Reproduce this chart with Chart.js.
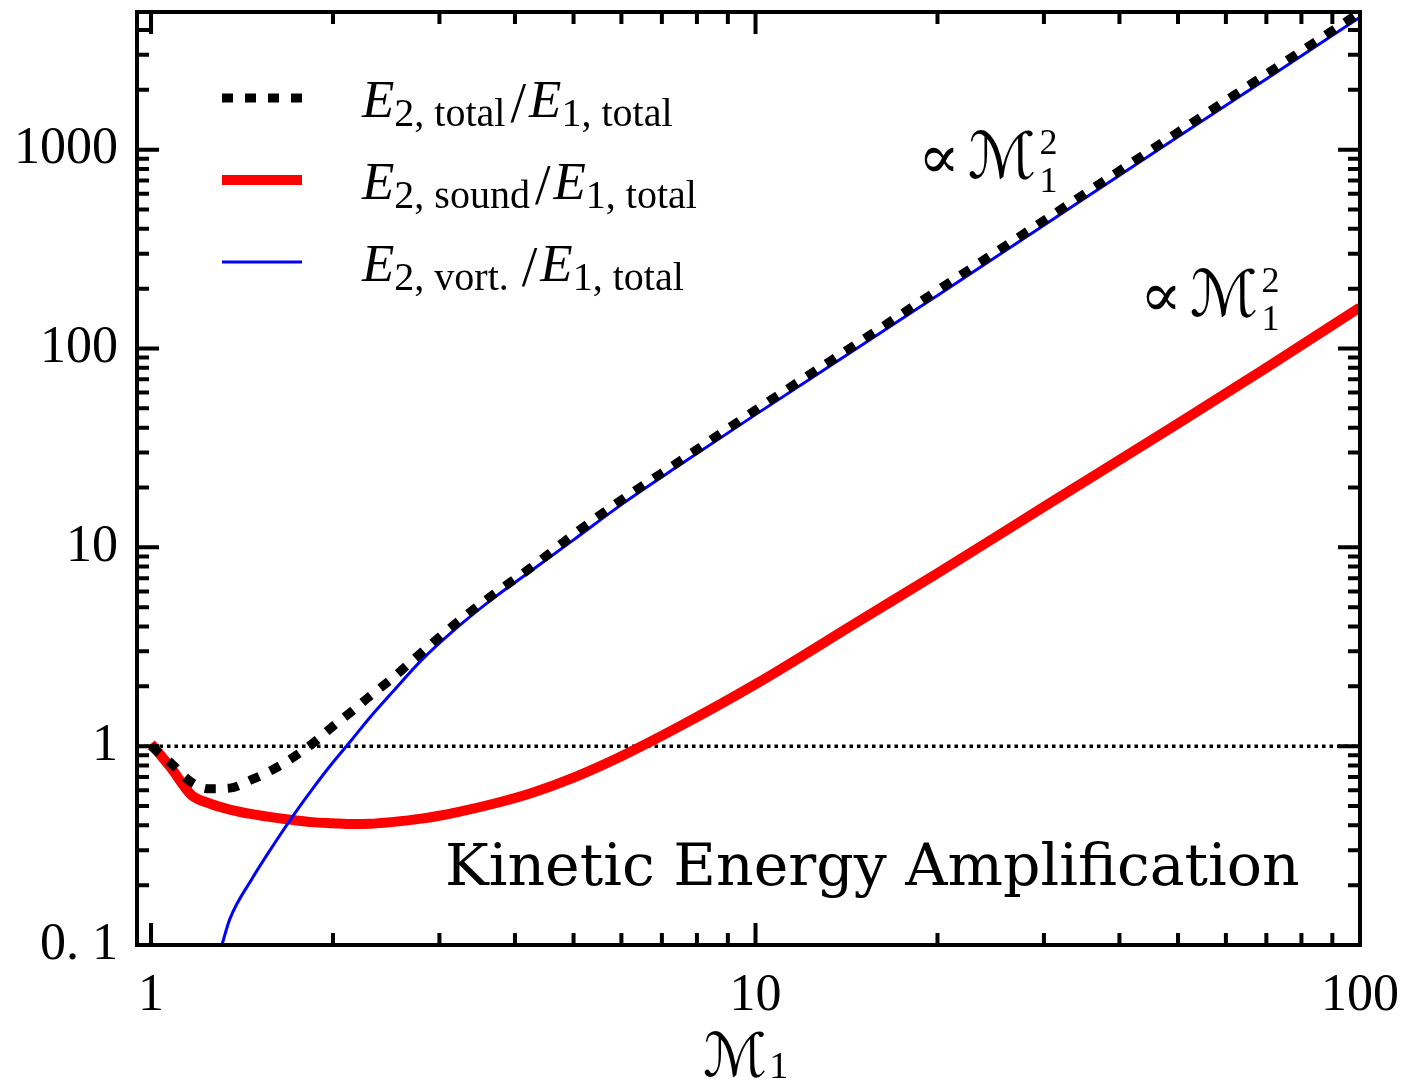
<!DOCTYPE html>
<html>
<head>
<meta charset="utf-8">
<script src="https://cdn.jsdelivr.net/npm/chart.js@4/dist/chart.umd.min.js"></script>
<style>
  html, body { margin: 0; padding: 0; background: #fff; }
  canvas { display: block; }
</style>
</head>
<body>
<canvas id="chart" width="1405" height="1082"></canvas>
<script>
// upstream Mach number M1 and energy ratios
const machNumbers = [1, 1.08, 1.165, 1.25, 1.35, 1.47, 1.6, 1.72, 1.85, 2, 2.15, 2.3, 2.5, 2.8, 3.2, 3.7, 4.25, 5, 6, 7.5, 10, 15, 20, 30, 50, 70, 100];
const totalRatio = [1.0, 0.82, 0.66, 0.61, 0.615, 0.68, 0.77, 0.88, 1.03, 1.26, 1.5, 1.78, 2.18, 2.95, 4.17, 5.85, 7.9, 11.6, 17.3, 27.2, 49, 110, 196, 440, 1225, 2400, 4900];
const soundRatio = [1.03, 0.775, 0.57, 0.515, 0.48, 0.455, 0.437, 0.425, 0.415, 0.41, 0.406, 0.407, 0.415, 0.432, 0.465, 0.515, 0.58, 0.695, 0.89, 1.26, 2.05, 4.35, 7.4, 16.0, 42, 80, 161];
const vortMach = [1.31, 1.35, 1.47, 1.6, 1.72, 1.85, 2, 2.15, 2.3, 2.5, 2.8, 3.2, 3.7, 4.25, 5, 6, 7.5, 10, 15, 20, 30, 50, 70, 100];
const vortRatio = [0.1, 0.135, 0.216, 0.324, 0.449, 0.61, 0.83, 1.08, 1.39, 1.85, 2.7, 3.92, 5.6, 7.6, 10.9, 16.4, 26, 46.5, 104, 185, 417, 1160, 2270, 4640];

const xRange = [0.948, 100];
const yRange = [0.1, 4925];
const xTicks = [1, 10, 100];
const xTickLabels = ['1', '10', '100'];
const yTicks = [0.1, 1, 10, 100, 1000];
const yTickLabels = ['0. 1', '1', '10', '100', '1000'];

const serif = "'Liberation Serif', 'DejaVu Serif', serif";
const script = "'DejaVu Serif', 'DejaVu Sans', serif";

function points(xs, ys) {
    return xs.map((x, i) => ({ x: x, y: ys[i] }));
}

function minorTicks(lo, hi) {
    const out = [];
    for (let d = Math.pow(10, Math.floor(Math.log10(lo))); d < hi; d *= 10) {
        for (let k = 1; k < 10; k++) {
            const v = +(k * d).toPrecision(3);
            if (v >= lo && v <= hi) out.push(v);
        }
    }
    return out;
}

// draw a row of text pieces, each with its own font and baseline shift
function drawRuns(ctx, x, base, runs) {
    runs.forEach(r => {
        ctx.font = r.font;
        x += r.pre || 0;
        ctx.fillText(r.text, x, base + (r.dy || 0));
        x += ctx.measureText(r.text).width + (r.gap || 0);
    });
    return x;
}

const frameAndText = {
    id: 'frameAndText',
    afterDraw(chart) {
        const { ctx, chartArea: a, scales: { x, y } } = chart;
        ctx.save();
        ctx.strokeStyle = '#000';
        ctx.lineCap = 'butt';
        ctx.lineWidth = 4;

        // inward ticks on all four sides
        minorTicks(xRange[0], xRange[1]).forEach(v => {
            const px = x.getPixelForValue(v);
            const len = xTicks.includes(v) ? 22 : 12;
            ctx.beginPath();
            ctx.moveTo(px, a.bottom); ctx.lineTo(px, a.bottom - len);
            ctx.moveTo(px, a.top); ctx.lineTo(px, a.top + len);
            ctx.stroke();
        });
        minorTicks(yRange[0], yRange[1]).forEach(v => {
            const py = y.getPixelForValue(v);
            const len = yTicks.includes(v) ? 22 : 12;
            ctx.beginPath();
            ctx.moveTo(a.left, py); ctx.lineTo(a.left + len, py);
            ctx.moveTo(a.right, py); ctx.lineTo(a.right - len, py);
            ctx.stroke();
        });
        ctx.strokeRect(a.left, a.top, a.right - a.left, a.bottom - a.top);

        // legend
        const rows = [
            { ds: 0, y: 98, num: '2, total', pad: 5 },
            { ds: 1, y: 180, num: '2, sound', pad: 5 },
            { ds: 2, y: 262, num: '2, vort.', pad: 13 }
        ];
        rows.forEach(r => {
            const d = chart.data.datasets[r.ds];
            ctx.save();
            ctx.strokeStyle = d.borderColor;
            ctx.lineWidth = d.borderWidth;
            ctx.setLineDash(d.borderDash || []);
            ctx.beginPath();
            ctx.moveTo(222, r.y); ctx.lineTo(302, r.y);
            ctx.stroke();
            ctx.restore();

            ctx.fillStyle = '#000';
            ctx.textAlign = 'left';
            ctx.textBaseline = 'alphabetic';
            drawRuns(ctx, 362, r.y + 19, [
                { text: 'E', font: 'italic 53px ' + serif, gap: 0 },
                { text: r.num, font: '40px ' + serif, dy: 9, gap: r.pad },
                { text: '/', font: '56px ' + serif, dy: 5, gap: 3 },
                { text: 'E', font: 'italic 53px ' + serif, gap: 0 },
                { text: '1, total', font: '40px ' + serif, dy: 9 }
            ]);
        });

        // scaling annotations
        [[918, 178], [1140, 316]].forEach(p => {
            const cx = drawRuns(ctx, p[0], p[1], [
                { text: '\u221D', font: '62px ' + script, gap: 8 },
                { text: '\u2133', font: '64px ' + script, gap: 3 }
            ]);
            ctx.font = '36px ' + serif;
            ctx.fillText('2', cx, p[1] - 24);
            ctx.fillText('1', cx, p[1] + 14);
        });

        ctx.font = '58.5px ' + script;
        ctx.fillText('Kinetic Energy Amplification', 445, 885);

        // x axis title
        drawRuns(ctx, 703, 1076, [
            { text: '\u2133', font: '60px ' + script, gap: 2 },
            { text: '1', font: '38px ' + serif, dy: 2 }
        ]);
        ctx.restore();
    }
};

const chart = new Chart(document.getElementById('chart'), {
    type: 'line',
    data: {
        datasets: [
            {
                label: 'E2,total/E1,total',
                data: points(machNumbers, totalRatio),
                borderColor: '#000',
                borderWidth: 9,
                borderDash: [11, 12],
                pointRadius: 0,
                cubicInterpolationMode: 'monotone',
                order: 0
            },
            {
                label: 'E2,sound/E1,total',
                data: points(machNumbers, soundRatio),
                borderColor: '#ff0000',
                borderWidth: 10,
                pointRadius: 0,
                cubicInterpolationMode: 'monotone',
                order: 2
            },
            {
                label: 'E2,vort./E1,total',
                data: points(vortMach, vortRatio),
                borderColor: '#0000ff',
                borderWidth: 3,
                pointRadius: 0,
                cubicInterpolationMode: 'monotone',
                order: 1
            },
            {
                label: 'unity',
                data: points(xRange, [1, 1]),
                borderColor: '#000',
                borderWidth: 3.5,
                borderDash: [3.5, 4],
                pointRadius: 0,
                order: 3
            }
        ]
    },
    options: {
        responsive: false,
        animation: false,
        layout: { padding: { left: 0, top: 12, right: 45, bottom: 0 } },
        plugins: { legend: { display: false }, tooltip: { enabled: false } },
        scales: {
            x: {
                type: 'logarithmic',
                min: xRange[0],
                max: xRange[1],
                grid: { display: false, drawTicks: false },
                border: { display: false },
                afterBuildTicks: s => { s.ticks = xTicks.map(v => ({ value: v })); },
                afterFit: s => { s.height = 137; s.paddingLeft = 0; s.paddingRight = 0; },
                ticks: {
                    autoSkip: false,
                    maxRotation: 0,
                    padding: 20,
                    color: '#000',
                    font: { family: serif, size: 52 },
                    callback: v => xTickLabels[xTicks.indexOf(v)]
                }
            },
            y: {
                type: 'logarithmic',
                min: yRange[0],
                max: yRange[1],
                grid: { display: false, drawTicks: false },
                border: { display: false },
                afterBuildTicks: s => { s.ticks = yTicks.map(v => ({ value: v })); },
                afterFit: s => { s.width = 137; s.paddingTop = 0; s.paddingBottom = 0; },
                ticks: {
                    autoSkip: false,
                    padding: 19,
                    color: '#000',
                    font: { family: serif, size: 52 },
                    callback: v => yTickLabels[yTicks.indexOf(v)]
                }
            }
        }
    },
    plugins: [frameAndText]
});
</script>
</body>
</html>
